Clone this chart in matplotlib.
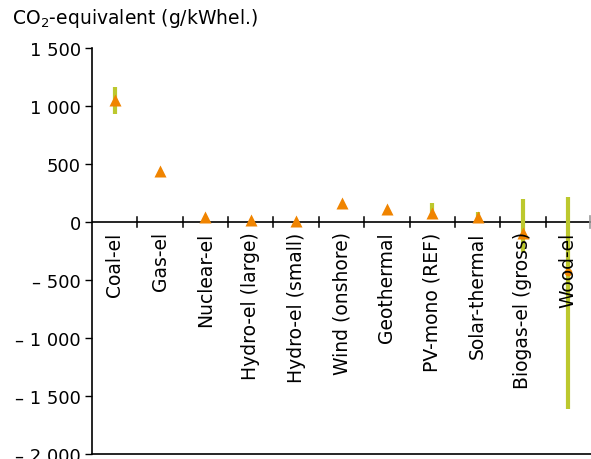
import matplotlib
matplotlib.use("Agg")
import matplotlib.pyplot as plt
from matplotlib.ticker import FuncFormatter
import numpy as np

categories = ["Coal-el", "Gas-el", "Nuclear-el", "Hydro-el (large)", "Hydro-el (small)",
              "Wind (onshore)", "Geothermal", "PV-mono (REF)", "Solar-thermal",
              "Biogas-el (gross)", "Wood-el"]
values = [1050, 440, 40, 20, 5, 165, 115, 75, 40, -95, -430]
range_low = [930, None, None, None, None, None, None, 25, 0, -260, -1610]
range_high = [1160, None, None, None, None, None, None, 165, 85, 200, 215]
marker_style = ["^"] * 10 + ["o"]

orange = "#F08400"
green = "#BCC82E"

fig = plt.figure(figsize=(5.91, 4.60), dpi=100)
ax = fig.add_axes([92/591, 1 - 455/460, 1 - 92/591, (455 - 49)/460])
x = np.arange(len(categories))

for xi, lo, hi in zip(x, range_low, range_high):
    if lo is not None:
        ax.plot([xi, xi], [lo, hi], color=green, lw=3, solid_capstyle="butt", zorder=2)

for xi, v, m in zip(x, values, marker_style):
    if m == "^":
        ax.plot(xi, v, marker="^", color=orange, ms=9, mec="none", zorder=3)
    else:
        ax.plot(xi, v, marker="o", color=orange, ms=5.5, mec="none", zorder=3)

ax.set_xlim(-0.5, len(categories) - 0.5)
ax.set_ylim(-2000, 1500)
ax.set_yticks(np.arange(-2000, 1501, 500))

def fmt(v, pos):
    v = int(round(v))
    s = f"{abs(v):,}".replace(",", " ")
    return ("\u2013 " + s) if v < 0 else s

ax.yaxis.set_major_formatter(FuncFormatter(fmt))
ax.tick_params(axis="y", direction="out", length=5, width=1, labelsize=13, pad=3, colors="black")
ax.set_xticks([])

for s in ["top", "right"]:
    ax.spines[s].set_visible(False)
ax.spines["left"].set_linewidth(1.2)
ax.spines["bottom"].set_linewidth(1.2)

# zero axis line with separator ticks
ax.axhline(0, color="black", lw=1.2, zorder=1)
for b in np.arange(0.5, len(categories) - 1, 1.0):
    ax.plot([b, b], [-45, 45], color="black", lw=1.1, zorder=1)
ax.plot([len(categories) - 0.52, len(categories) - 0.52], [-50, 50], color="#999999", lw=1.2, clip_on=False)

for xi, c in zip(x, categories):
    ax.text(xi, -80, c, rotation=90, ha="center", va="top", fontsize=13.5)

fig.text(12/591, 1 - 18/460, "CO$_2$-equivalent (g/kWhel.)", fontsize=13.5, va="center", ha="left")

fig.savefig("out.png", dpi=100)
